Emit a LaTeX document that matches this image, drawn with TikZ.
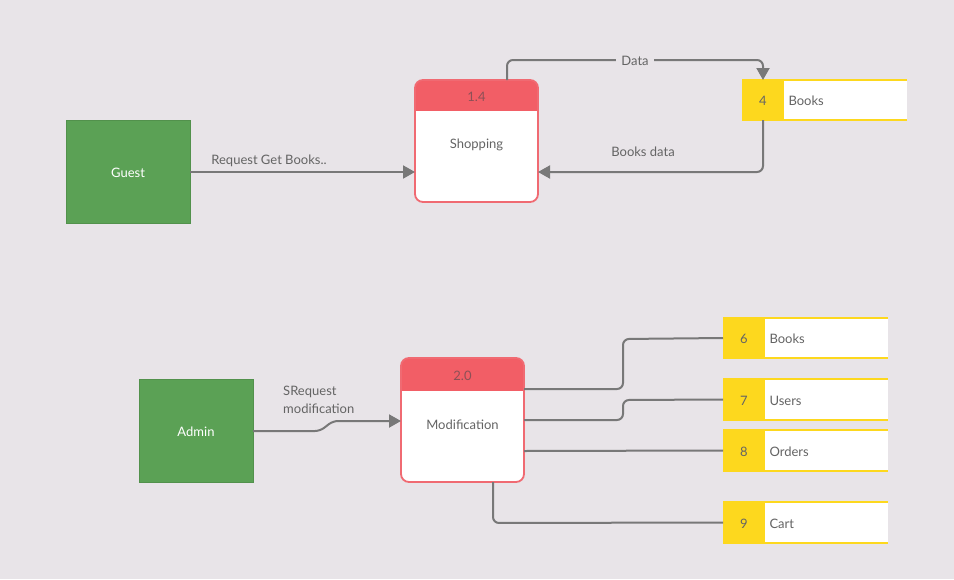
\documentclass[tikz,border=0pt]{standalone}
\usepackage{fontspec}
\setmainfont{Lato}
\usetikzlibrary{arrows.meta}
\definecolor{bg}{RGB}{232,228,232}
\definecolor{ent}{RGB}{91,161,85}
\definecolor{phead}{RGB}{242,94,102}
\definecolor{pline}{RGB}{240,106,114}
\definecolor{ylw}{RGB}{253,216,30}
\definecolor{ln}{RGB}{120,120,120}
\definecolor{txt}{RGB}{100,100,100}
\definecolor{htxt}{RGB}{140,80,86}
\tikzset{
  every node/.style={font=\fontsize{13}{16}\selectfont, text=txt},
  entity/.style={fill=ent, draw=ent!90!black, line width=0.5pt, text=white},
  conn/.style={draw=ln, line width=2pt, rounded corners=6pt},
  arr/.style={conn, -{Triangle[length=12pt,width=13pt]}},
  lbl/.style={fill=bg, inner xsep=5pt, inner ysep=2pt}
}
\begin{document}
\begin{tikzpicture}[x=1pt,y=-1pt]
\useasboundingbox (0,0) rectangle (954,579);
\fill[bg] (0,0) rectangle (954,579);

% entities
\draw[entity] (66,120) rectangle (190,223);
\node[text=white] (guest) at (128,173) {Guest};
\coordinate (guestE) at (190,172);
\draw[entity] (139,379) rectangle (253,482);
\node[text=white] (admin) at (196,432) {Admin};
\coordinate (adminE) at (253,431);

% process 1.4
\fill[white, rounded corners=8pt] (415,80) rectangle (538,202);
\begin{scope}
\clip[rounded corners=8pt] (415,80) rectangle (538,202);
\fill[phead] (415,80) rectangle (538,111);
\end{scope}
\draw[pline, line width=1.8pt, rounded corners=8pt] (415,80) rectangle (538,202);
\node[text=htxt] (p14h) at (476.5,96.5) {1.4};
\node (shop) at (476.5,145) {Shopping};
\coordinate (shopW) at (415,172);
\coordinate (shopE) at (538,172);
\coordinate (shopT) at (507,80);

% process 2.0
\fill[white, rounded corners=8pt] (401,358) rectangle (524,482);
\begin{scope}
\clip[rounded corners=8pt] (401,358) rectangle (524,482);
\fill[phead] (401,358) rectangle (524,391);
\end{scope}
\draw[pline, line width=1.8pt, rounded corners=8pt] (401,358) rectangle (524,482);
\node[text=htxt] (p20h) at (462.5,375.5) {2.0};
\node (mod) at (462.5,425) {Modification};
\coordinate (modW) at (401,421);
\coordinate (modE1) at (524,389);
\coordinate (modE2) at (524,420);
\coordinate (modE3) at (524,451);
\coordinate (modB) at (493,482);

% data stores
\newcommand{\dstore}[5]{% name, xl, yt, yb, nodes
  \fill[white] (#2+42,#3) rectangle (#2+165,#4);
  \draw[ylw, line width=1.8pt] (#2+42,#3) -- (#2+165,#3) (#2+42,#4) -- (#2+165,#4);
  \fill[ylw] (#2,#3-0.9) rectangle (#2+42,#4+0.9);
  \coordinate (#1W) at (#2,{(#3+#4)/2});
  \coordinate (#1T) at (#2+21,#3);
  \coordinate (#1B) at (#2+21,#4);
  #5
}
\dstore{s4}{742}{80}{120}{\node (n4) at (763,101) {4}; \node[anchor=west] (l4) at (785,101) {Books};}
\dstore{s6}{723}{318}{358}{\node (n6) at (744,339) {6}; \node[anchor=west] (l6) at (766,339) {Books};}
\dstore{s7}{723}{379}{420}{\node (n7) at (744,401) {7}; \node[anchor=west] (l7) at (766,401) {Users};}
\dstore{s8}{723}{430}{471}{\node (n8) at (744,452) {8}; \node[anchor=west] (l8) at (766,452) {Orders};}
\dstore{s9}{723}{502}{543}{\node (n9) at (744,524) {9}; \node[anchor=west] (l9) at (766,524) {Cart};}

% connectors top
\draw[arr] (guestE) -- (shopW);
\node (lreq) at (269,161) {Request Get Books..};
\draw[arr] (shopT) -- (507,60) -- (763,60) -- (s4T);
\node[lbl] (ldata) at (635,60.5) {Data};
\draw[arr] (s4B) -- (763,172) -- (shopE);
\node (lbd) at (643,152) {Books data};

% connectors bottom
\draw[arr, rounded corners=5pt] (adminE) -- (320,431) -- (333,421) -- (modW);
\node[anchor=west, align=left, inner sep=0pt, font=\fontsize{13}{18}\selectfont] (lsr) at (283,400) {SRequest\\modification};
\draw[conn] (modE1) -- (623,389) -- (623,339) -- (s6W);
\draw[conn] (modE2) -- (623,420) -- (623,400) -- (s7W);
\draw[conn] (modE3) -- (s8W);
\draw[conn] (modB) -- (493,523) -- (s9W);
\end{tikzpicture}
\end{document}
